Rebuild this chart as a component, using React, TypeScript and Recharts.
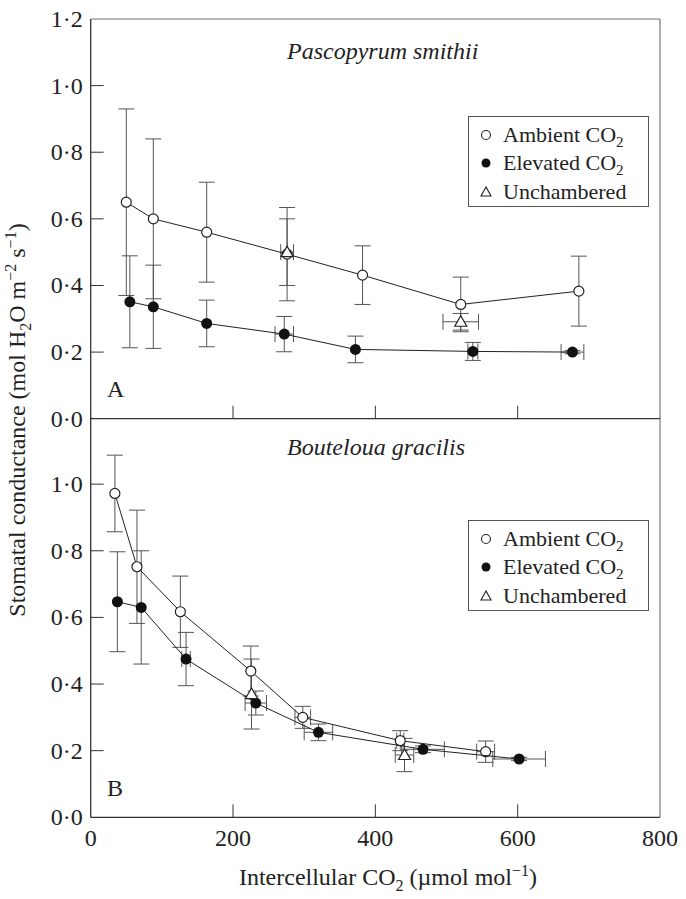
import React from "react";
import { ScatterChart, Scatter, XAxis, YAxis, ErrorBar, ReferenceLine, Legend } from "recharts";

const FONT = '"Liberation Serif", "Times New Roman", serif';
const INK = "#222";
const AXIS = "#333";
const FRAME = "#777";

// each point: [Ci, gs, Ci error, gs error]
type Pt = [number, number, number, number];

const xTicks = [0, 200, 400, 600, 800];
const yTicks = [0, 0.2, 0.4, 0.6, 0.8, 1.0, 1.2];

// A: Pascopyrum smithii
const pascoAmbient: Pt[] = [
  [50, 0.65, 0, 0.28],
  [88, 0.6, 0, 0.24],
  [163, 0.56, 0, 0.15],
  [276, 0.494, 0, 0.14],
  [382, 0.431, 0, 0.088],
  [520, 0.343, 0, 0.082],
  [686, 0.383, 0, 0.105],
];
const pascoElevated: Pt[] = [
  [55, 0.351, 0, 0.138],
  [88, 0.336, 0, 0.125],
  [163, 0.286, 0, 0.07],
  [272, 0.254, 13, 0.053],
  [372, 0.208, 0, 0.04],
  [537, 0.202, 7, 0.027],
  [677, 0.2, 16, 0.005],
];
const pascoUnchambered: Pt[] = [
  [276, 0.5, 9, 0.1],
  [520, 0.291, 25, 0.025],
];

// B: Bouteloua gracilis
const boutAmbient: Pt[] = [
  [34, 0.972, 0, 0.115],
  [65, 0.752, 0, 0.17],
  [126, 0.617, 0, 0.107],
  [225, 0.439, 0, 0.075],
  [298, 0.3, 11, 0.033],
  [435, 0.23, 5, 0.03],
  [555, 0.197, 12.6, 0.032],
];
const boutElevated: Pt[] = [
  [37.5, 0.647, 0, 0.15],
  [71, 0.63, 0, 0.17],
  [134, 0.475, 6, 0.08],
  [232, 0.343, 15, 0.036],
  [320, 0.255, 20, 0.025],
  [467, 0.204, 30, 0.01],
  [602, 0.175, 37, 0.005],
];
const boutUnchambered: Pt[] = [
  [226, 0.37, 0, 0.105],
  [441, 0.187, 13, 0.05],
];

const toRows = (pts: Pt[]) => pts.map(([x, y, ex, ey]) => ({ x, y, ex, ey }));
const fmt = (v: number) => v.toFixed(1).replace(".", "·");

const OpenCircle = (p: any) => <circle cx={p.cx} cy={p.cy} r={5} fill="#fff" stroke={INK} strokeWidth={1.2} />;
const FilledCircle = (p: any) => <circle cx={p.cx} cy={p.cy} r={5.5} fill="#111" />;
const OpenTriangle = (p: any) => (
  <polygon
    points={`${p.cx},${p.cy - 6} ${p.cx - 6},${p.cy + 4.5} ${p.cx + 6},${p.cy + 4.5}`}
    fill="#fff"
    stroke={INK}
    strokeWidth={1.2}
  />
);

function XTick({ x, y, payload, labels }: any) {
  const v = payload.value;
  return (
    <g>
      {v > 0 && v < 800 && <line x1={x} x2={x} y1={y} y2={y - 13} stroke={AXIS} />}
      {labels && (
        <text x={x} y={y + 29} textAnchor="middle" fontFamily={FONT} fontSize={24} fill={INK}>
          {v}
        </text>
      )}
    </g>
  );
}

function YTick({ x, y, payload, maxLabel }: any) {
  const v = payload.value;
  return (
    <g>
      {v > 0 && v < 1.2 && <line x1={x} x2={x + 13} y1={y} y2={y} stroke={AXIS} />}
      {v <= maxLabel && (
        <text x={x - 8} y={y + 8} textAnchor="end" fontFamily={FONT} fontSize={24} fill={INK}>
          {fmt(v)}
        </text>
      )}
    </g>
  );
}

function LegendBox() {
  const rows = [19, 47, 76];
  return (
    <svg width={182} height={92} style={{ display: "block" }}>
      <rect x={0.5} y={0.5} width={180} height={90} fill="#fff" stroke="#555" />
      <circle cx={18} cy={rows[0]} r={4.5} fill="#fff" stroke={INK} strokeWidth={1.1} />
      <circle cx={18} cy={rows[1]} r={4.5} fill="#111" />
      <polygon points={`18,${rows[2] - 5} 13,${rows[2] + 4} 23,${rows[2] + 4}`} fill="#fff" stroke={INK} strokeWidth={1.1} />
      <g fontFamily={FONT} fontSize={22} fill={INK}>
        <text x={35} y={rows[0] + 7}>
          Ambient CO<tspan dy={5} fontSize={15}>2</tspan>
        </text>
        <text x={35} y={rows[1] + 7}>
          Elevated CO<tspan dy={5} fontSize={15}>2</tspan>
        </text>
        <text x={35} y={rows[2] + 7}>Unchambered</text>
      </g>
    </svg>
  );
}

type PanelProps = {
  height: number;
  margin: { top: number; right: number; bottom: number; left: number };
  xAxisHeight: number;
  ambient: Pt[];
  elevated: Pt[];
  unchambered: Pt[];
  xLabels: boolean;
  maxYLabel: number;
  legendTop: number;
  topBorder: boolean;
};

function Panel(p: PanelProps) {
  const errY = (key: string) => (
    <ErrorBar dataKey={key} direction="y" width={8} stroke="#555" strokeWidth={1} isAnimationActive={false} />
  );
  const errX = (key: string) => (
    <ErrorBar dataKey={key} direction="x" width={8} stroke="#555" strokeWidth={1} isAnimationActive={false} />
  );
  return (
    <ScatterChart width={686} height={p.height} margin={p.margin}>
      <XAxis
        type="number"
        dataKey="x"
        domain={[0, 800]}
        ticks={xTicks}
        allowDataOverflow
        height={p.xAxisHeight}
        tickSize={0}
        tickMargin={0}
        tickLine={false}
        axisLine={{ stroke: AXIS, strokeWidth: 1.3 }}
        tick={(t: any) => <XTick {...t} labels={p.xLabels} />}
        interval={0}
      />
      <YAxis
        type="number"
        dataKey="y"
        domain={[0, 1.2]}
        ticks={yTicks}
        allowDataOverflow
        width={90.7}
        tickSize={0}
        tickMargin={0}
        tickLine={false}
        axisLine={{ stroke: AXIS, strokeWidth: 1.3 }}
        tick={(t: any) => <YTick {...t} maxLabel={p.maxYLabel} />}
        interval={0}
      />
      {p.topBorder && <ReferenceLine y={1.2} stroke={FRAME} strokeWidth={1.2} />}
      <ReferenceLine x={800} stroke={FRAME} strokeWidth={1.2} />
      <Scatter
        name="Ambient CO2"
        data={toRows(p.ambient)}
        line={{ stroke: INK, strokeWidth: 1 }}
        lineType="joint"
        shape={OpenCircle}
        isAnimationActive={false}
      >
        {errY("ey")}
        {errX("ex")}
      </Scatter>
      <Scatter
        name="Elevated CO2"
        data={toRows(p.elevated)}
        line={{ stroke: INK, strokeWidth: 1 }}
        lineType="joint"
        shape={FilledCircle}
        isAnimationActive={false}
      >
        {errY("ey")}
        {errX("ex")}
      </Scatter>
      <Scatter name="Unchambered" data={toRows(p.unchambered)} shape={OpenTriangle} isAnimationActive={false}>
        {errY("ey")}
        {errX("ex")}
      </Scatter>
      <Legend
        layout="horizontal"
        align="center"
        verticalAlign="middle"
        wrapperStyle={{ left: 468, top: p.legendTop, width: 182, height: 92 }}
        content={() => <LegendBox />}
      />
    </ScatterChart>
  );
}

export default function App() {
  return (
    <div style={{ position: "absolute", left: 0, top: 0, width: 686, height: 899, background: "#fff" }}>
      <div style={{ position: "absolute", left: 0, top: 0 }}>
        <Panel
          height={440}
          margin={{ top: 19, right: 26, bottom: 0, left: 0 }}
          xAxisHeight={21.3}
          ambient={pascoAmbient}
          elevated={pascoElevated}
          unchambered={pascoUnchambered}
          xLabels={false}
          maxYLabel={1.2}
          legendTop={116}
          topBorder
        />
      </div>
      <div style={{ position: "absolute", left: 0, top: 0 }}>
        <Panel
          height={899}
          margin={{ top: 417.5, right: 26, bottom: 31.7, left: 0 }}
          xAxisHeight={50}
          ambient={boutAmbient}
          elevated={boutElevated}
          unchambered={boutUnchambered}
          xLabels
          maxYLabel={1.0}
          legendTop={520}
          topBorder={false}
        />
      </div>
      <svg
        width={686}
        height={899}
        style={{ position: "absolute", left: 0, top: 0, pointerEvents: "none" }}
        fontFamily={FONT}
        fill={INK}
      >
        <text x={287} y={59} fontSize={24} fontStyle="italic">Pascopyrum smithii</text>
        <text x={287} y={455} fontSize={24} fontStyle="italic">Bouteloua gracilis</text>
        <text x={107} y={397} fontSize={24}>A</text>
        <text x={107} y={796} fontSize={24}>B</text>
        <text x={388} y={885} fontSize={24} textAnchor="middle">
          Intercellular CO<tspan dy={6} fontSize={16}>2</tspan>
          <tspan dy={-6}> (µmol mol</tspan>
          <tspan dy={-9} fontSize={16}>−1</tspan>
          <tspan dy={9}>)</tspan>
        </text>
        <text x={25} y={420} fontSize={24} textAnchor="middle" transform="rotate(-90 25 420)">
          Stomatal conductance (mol H<tspan dy={6} fontSize={16}>2</tspan>
          <tspan dy={-6}>O m</tspan>
          <tspan dy={-9} fontSize={16}>−2</tspan>
          <tspan dy={9}> s</tspan>
          <tspan dy={-9} fontSize={16}>−1</tspan>
          <tspan dy={9}>)</tspan>
        </text>
      </svg>
    </div>
  );
}
